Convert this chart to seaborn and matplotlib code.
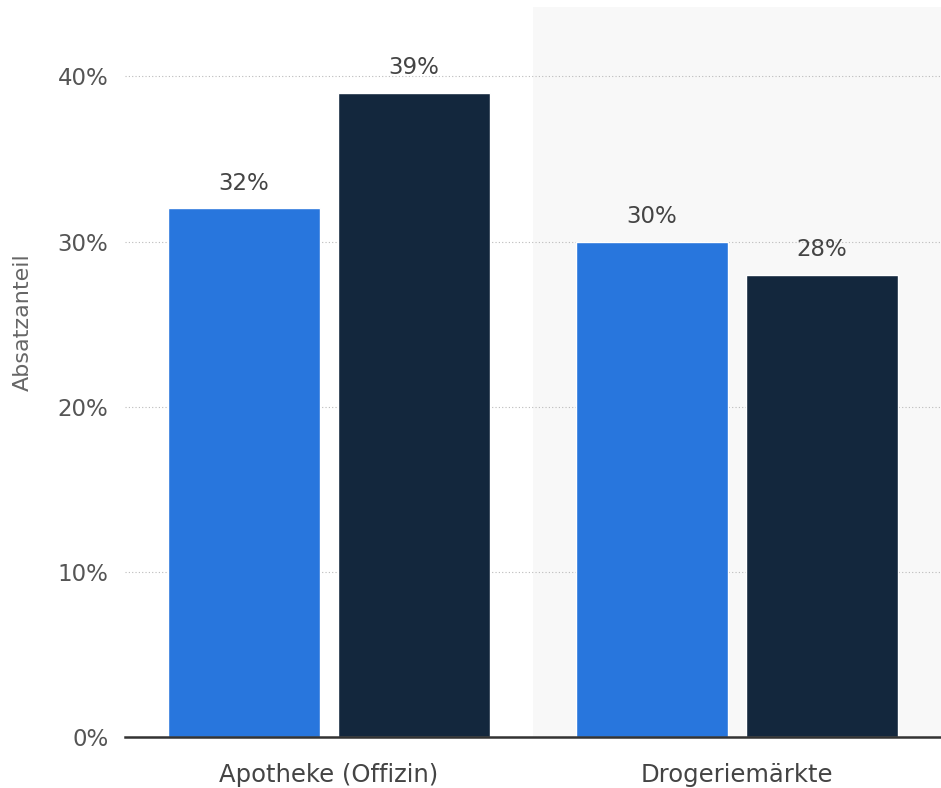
import matplotlib
matplotlib.use("Agg")
import matplotlib.pyplot as plt
import seaborn as sns
import pandas as pd
from matplotlib.ticker import FuncFormatter

# data
categories = ["Apotheke (Offizin)", "Drogeriemärkte"]
series = ["Serie 1", "Serie 2"]
values_1 = [32, 30]
values_2 = [39, 28]
yticks = [0, 10, 20, 30, 40]

df = pd.DataFrame({
    "kanal": categories * 2,
    "serie": [series[0]] * 2 + [series[1]] * 2,
    "anteil": values_1 + values_2,
})

sns.set_theme(style="white")
plt.rcParams['font.family'] = ['DejaVu Sans']

fig = plt.figure(figsize=(9.41, 7.88), dpi=100)
ax = fig.add_axes([125 / 941, 51 / 788, 816 / 941, 730 / 788])

# light shading behind the second category
ax.axvspan(0.5, 1.5, color="#f8f8f8", zorder=0, lw=0)

sns.barplot(data=df, x="kanal", y="anteil", hue="serie", ax=ax,
            palette=["#2876dd", "#13273d"], width=0.833, gap=0.106,
            saturation=1, legend=False, zorder=3)

# value labels above each bar
for cont in ax.containers:
    ax.bar_label(cont, labels=[f"{v:.0f}%" for v in cont.datavalues],
                 padding=10, fontsize=16.5, color="#444444")

ax.set_xlim(-0.5, 1.5)
ax.set_ylim(0, 44.2)
ax.set_yticks(yticks)
ax.yaxis.set_major_formatter(FuncFormatter(lambda v, p: f"{v:.0f}%"))
ax.grid(axis="y", linestyle=(0, (1, 2)), color="#bbbbbb", linewidth=0.8, zorder=1)
ax.set_axisbelow(True)

for s in ["top", "right", "left"]:
    ax.spines[s].set_visible(False)
ax.spines["bottom"].set_color("#333333")
ax.spines["bottom"].set_linewidth(1.8)
ax.spines["bottom"].set_zorder(5)

ax.tick_params(axis="y", length=0, pad=12, labelsize=16.5, labelcolor="#555555")
ax.tick_params(axis="x", length=0, pad=19, labelsize=17.5, labelcolor="#444444")
ax.set_xlabel("")
ax.set_ylabel("Absatzanteil", fontsize=16, color="#666666")
ax.yaxis.set_label_coords(-92 / 816, 0.568)

fig.savefig("out.png", dpi=100)
